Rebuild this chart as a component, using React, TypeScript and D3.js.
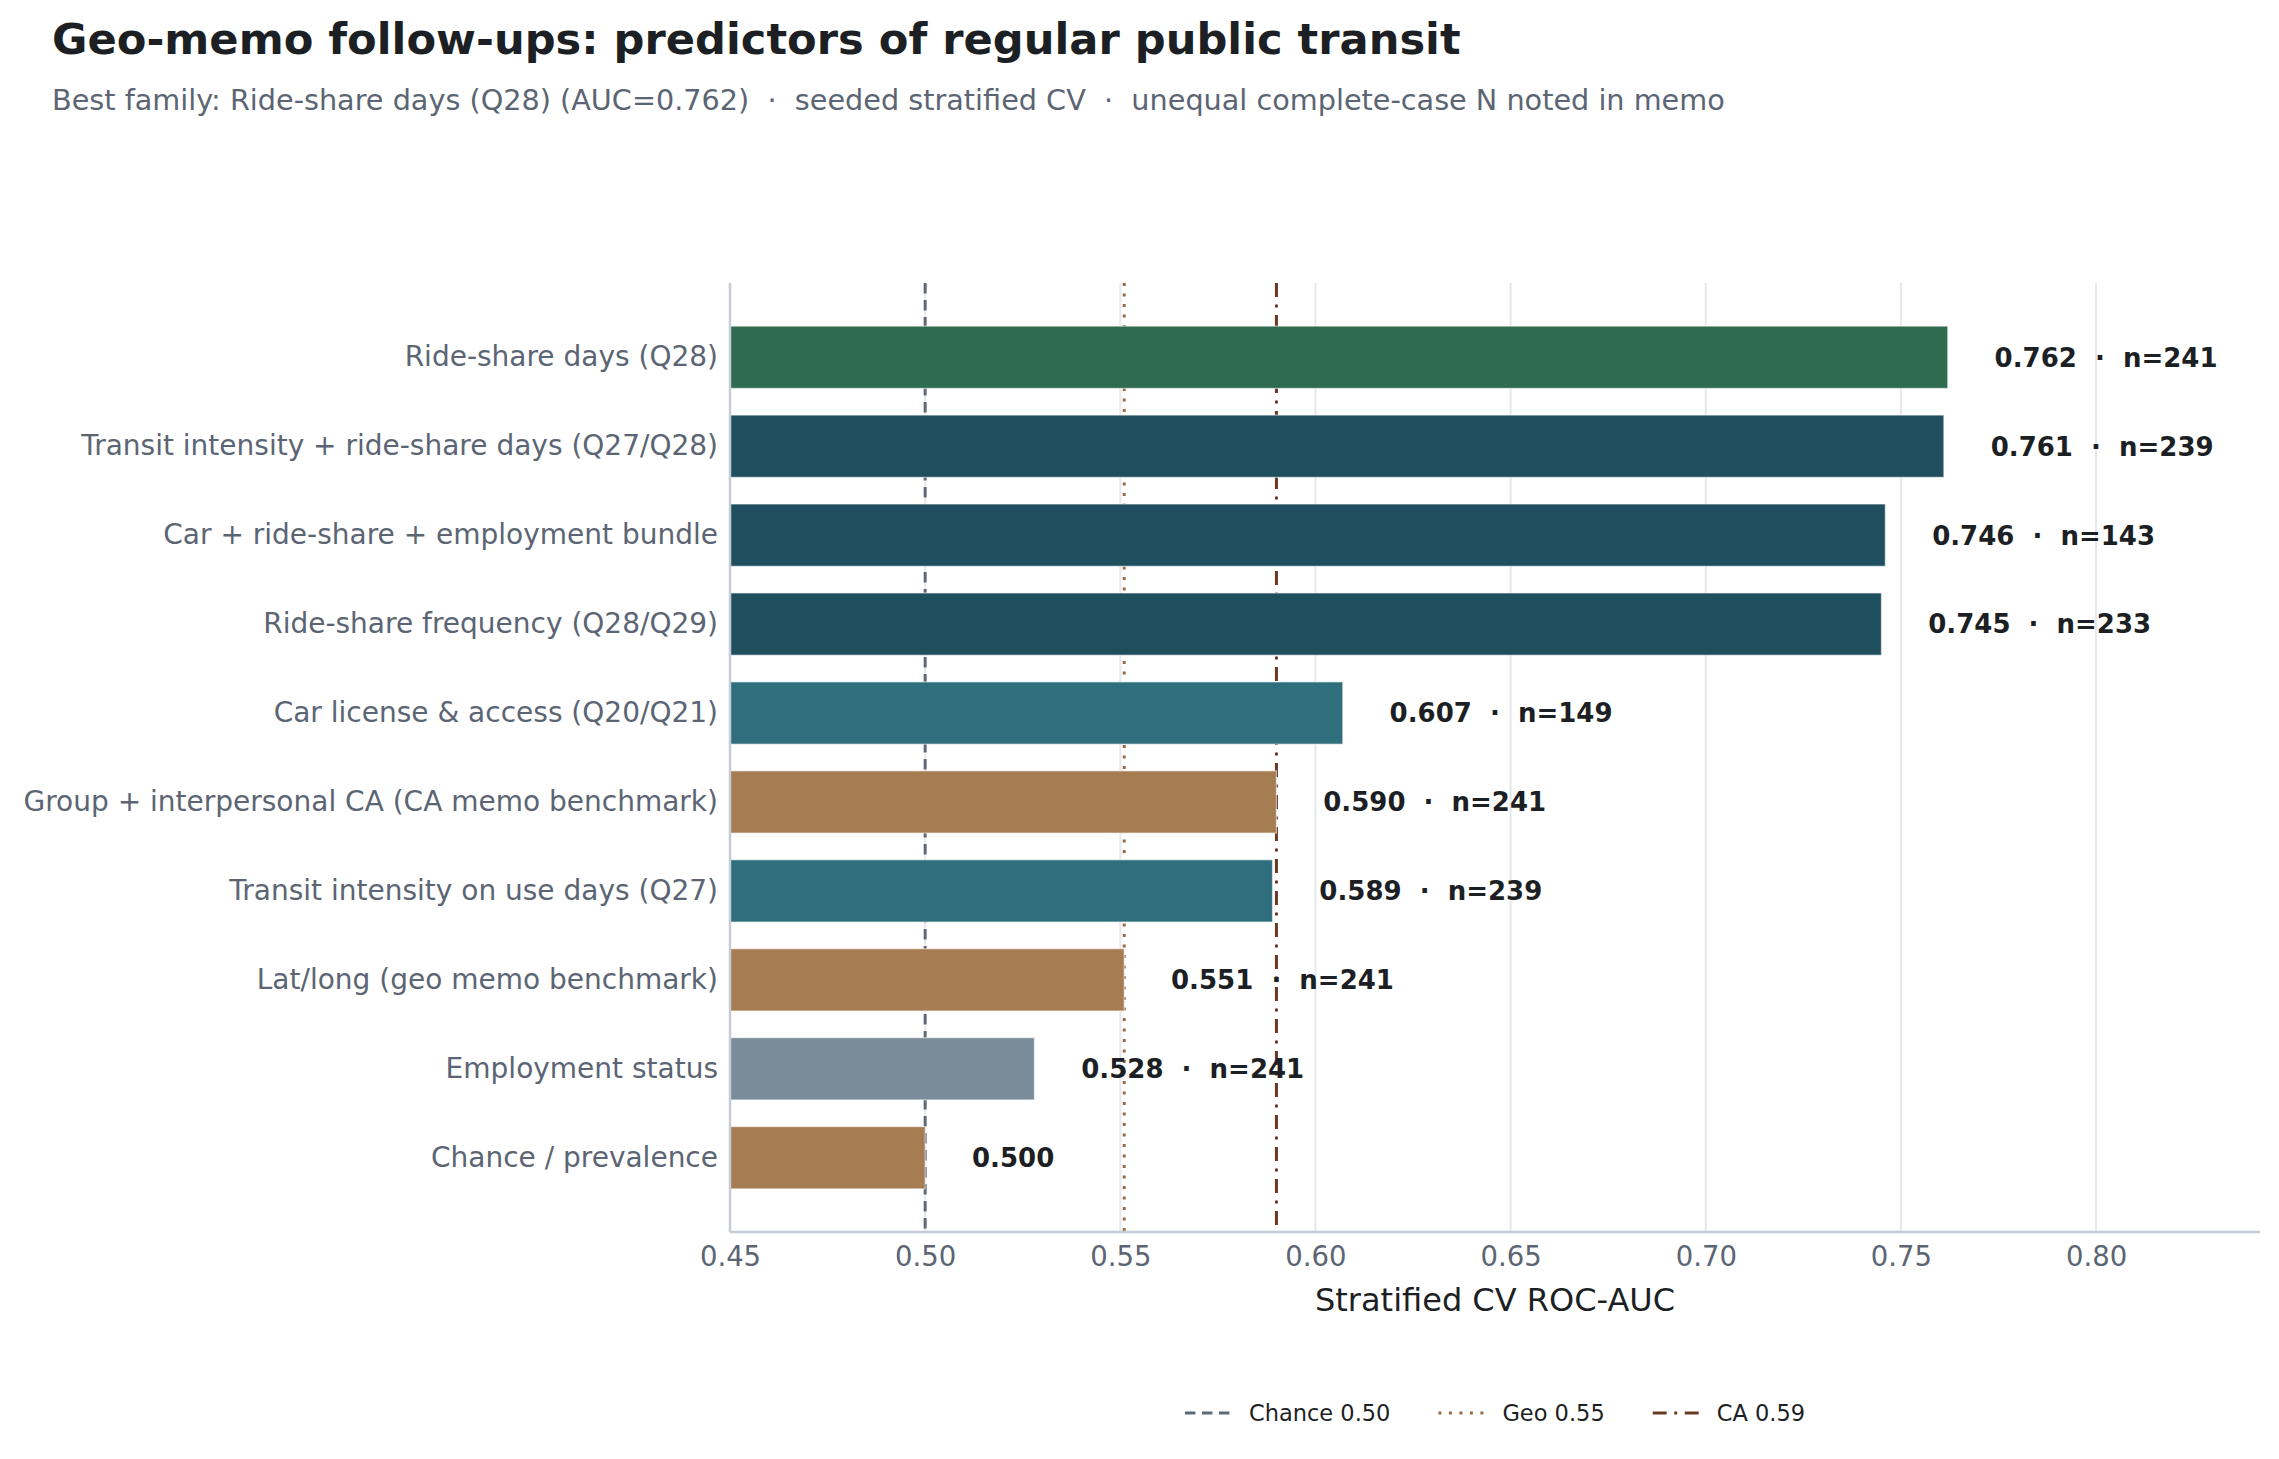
import React, { useEffect, useRef } from "react";
import * as d3 from "d3";

const categories = [
  "Ride-share days (Q28)",
  "Transit intensity + ride-share days (Q27/Q28)",
  "Car + ride-share + employment bundle",
  "Ride-share frequency (Q28/Q29)",
  "Car license & access (Q20/Q21)",
  "Group + interpersonal CA (CA memo benchmark)",
  "Transit intensity on use days (Q27)",
  "Lat/long (geo memo benchmark)",
  "Employment status",
  "Chance / prevalence",
];
const aucValues = [0.762, 0.761, 0.746, 0.745, 0.607, 0.59, 0.589, 0.551, 0.528, 0.5];
const sampleSizes = [241, 239, 143, 233, 149, 241, 239, 241, 241, null];
const families = [
  "best",
  "rideshare",
  "rideshare",
  "rideshare",
  "transit",
  "benchmark",
  "transit",
  "benchmark",
  "employment",
  "benchmark",
];
const xTicks = [0.45, 0.5, 0.55, 0.6, 0.65, 0.7, 0.75, 0.8];
const refLabels = ["Chance 0.50", "Geo 0.55", "CA 0.59"];
const refValues = [0.5, 0.551, 0.59];

const familyColor: Record<string, string> = {
  best: "#2f6b4f",
  rideshare: "#1f4e5f",
  transit: "#2f6e7c",
  benchmark: "#a67c52",
  employment: "#7a8b99",
};
const refColor = ["#5f6a78", "#9c6a44", "#6b3a22"];
const refDash = ["10.5 6.5", "3 7.5", "14 7.5 3 7.5"];

const W = 2279;
const H = 1459;
const FONT = "DejaVu Sans, sans-serif";

export default function App() {
  const ref = useRef<SVGSVGElement>(null);

  useEffect(() => {
    document.body.style.margin = "0";
    const svg = d3.select(ref.current);
    svg.selectAll("*").remove();

    const left = 730;
    const right = 2260;
    const top = 283;
    const bottom = 1232;

    const x = d3.scaleLinear().domain([0.45, 0.842]).range([left, right]);
    const y = d3
      .scaleBand<string>()
      .domain(categories)
      .range([top, bottom])
      .paddingInner(0.3)
      .paddingOuter(0.485);

    // title block
    svg
      .append("text")
      .attr("x", 52)
      .attr("y", 54)
      .attr("font-family", FONT)
      .attr("font-weight", "bold")
      .attr("font-size", 43.2)
      .attr("fill", "#1c1f24")
      .text("Geo-memo follow-ups: predictors of regular public transit");
    svg
      .append("text")
      .attr("x", 52)
      .attr("y", 110)
      .attr("font-family", FONT)
      .attr("font-size", 28.7)
      .attr("fill", "#5b6573")
      .style("white-space", "pre")
      .text(
        "Best family: Ride-share days (Q28) (AUC=0.762)  \u00b7  seeded stratified CV  \u00b7  unequal complete-case N noted in memo"
      );

    // grid
    svg
      .append("g")
      .selectAll("line")
      .data(xTicks)
      .join("line")
      .attr("x1", (d) => x(d))
      .attr("x2", (d) => x(d))
      .attr("y1", top)
      .attr("y2", bottom)
      .attr("stroke", "#e6e8eb")
      .attr("stroke-width", 2);

    // reference lines
    svg
      .append("g")
      .selectAll("line")
      .data(refValues)
      .join("line")
      .attr("x1", (d) => x(d))
      .attr("x2", (d) => x(d))
      .attr("y1", top)
      .attr("y2", bottom)
      .attr("stroke", (d, i) => refColor[i])
      .attr("stroke-width", 3)
      .attr("stroke-dasharray", (d, i) => refDash[i]);

    // bars
    svg
      .append("g")
      .selectAll("rect")
      .data(categories)
      .join("rect")
      .attr("x", x(0.45))
      .attr("y", (d) => y(d) as number)
      .attr("width", (d, i) => x(aucValues[i]) - x(0.45))
      .attr("height", y.bandwidth())
      .attr("fill", (d, i) => familyColor[families[i]])
      .attr("stroke", "rgba(255,255,255,0.55)")
      .attr("stroke-width", 1.2);

    // value labels
    svg
      .append("g")
      .selectAll("text")
      .data(categories)
      .join("text")
      .attr("x", (d, i) => x(aucValues[i] + 0.012))
      .attr("y", (d) => (y(d) as number) + y.bandwidth() / 2)
      .attr("dy", "0.36em")
      .attr("font-family", FONT)
      .attr("font-weight", "bold")
      .attr("font-size", 26)
      .attr("fill", "#1c1f24")
      .style("white-space", "pre")
      .text((d, i) =>
        sampleSizes[i] == null
          ? aucValues[i].toFixed(3)
          : `${aucValues[i].toFixed(3)}  \u00b7  n=${sampleSizes[i]}`
      );

    // spines
    svg
      .append("line")
      .attr("x1", left)
      .attr("x2", left)
      .attr("y1", top)
      .attr("y2", bottom)
      .attr("stroke", "#c5ccd6")
      .attr("stroke-width", 2.5);
    svg
      .append("line")
      .attr("x1", left)
      .attr("x2", right)
      .attr("y1", bottom)
      .attr("y2", bottom)
      .attr("stroke", "#c5ccd6")
      .attr("stroke-width", 2.5);

    // y axis
    const yAxis = svg
      .append("g")
      .attr("transform", `translate(${left},0)`)
      .call(d3.axisLeft(y).tickSize(0).tickPadding(12));
    yAxis.select(".domain").remove();
    yAxis
      .selectAll(".tick text")
      .attr("font-family", FONT)
      .attr("font-size", 28)
      .attr("fill", "#5b6573");

    // x axis
    const xAxis = svg
      .append("g")
      .attr("transform", `translate(0,${bottom})`)
      .call(
        d3
          .axisBottom(x)
          .tickValues(xTicks)
          .tickFormat(d3.format(".2f"))
          .tickSize(0)
          .tickPadding(14)
      );
    xAxis.select(".domain").remove();
    xAxis
      .selectAll(".tick text")
      .attr("font-family", FONT)
      .attr("font-size", 27.5)
      .attr("fill", "#5b6573");

    svg
      .append("text")
      .attr("x", (left + right) / 2)
      .attr("y", 1311)
      .attr("text-anchor", "middle")
      .attr("font-family", FONT)
      .attr("font-size", 32)
      .attr("fill", "#1c1f24")
      .text("Stratified CV ROC-AUC");

    // legend
    const legend = svg.append("g");
    const sampleW = 46;
    const textGap = 18;
    const itemGap = 48;
    let cursor = 0;
    refLabels.forEach((label, i) => {
      const g = legend.append("g").attr("transform", `translate(${cursor},0)`);
      g.append("line")
        .attr("x1", 0)
        .attr("x2", sampleW)
        .attr("y1", 0)
        .attr("y2", 0)
        .attr("stroke", refColor[i])
        .attr("stroke-width", 3)
        .attr("stroke-dasharray", refDash[i]);
      const t = g
        .append("text")
        .attr("x", sampleW + textGap)
        .attr("y", 0)
        .attr("dy", "0.36em")
        .attr("font-family", FONT)
        .attr("font-size", 22.5)
        .attr("fill", "#1c1f24")
        .text(label);
      const tw = (t.node() as SVGTextElement).getComputedTextLength();
      cursor += sampleW + textGap + tw + itemGap;
    });
    const legendW = cursor - itemGap;
    legend.attr("transform", `translate(${(left + right) / 2 - legendW / 2},1413)`);
  }, []);

  return (
    <div style={{ position: "absolute", left: 0, top: 0 }}>
      <svg ref={ref} width={W} height={H} style={{ display: "block", background: "#ffffff" }} />
    </div>
  );
}
